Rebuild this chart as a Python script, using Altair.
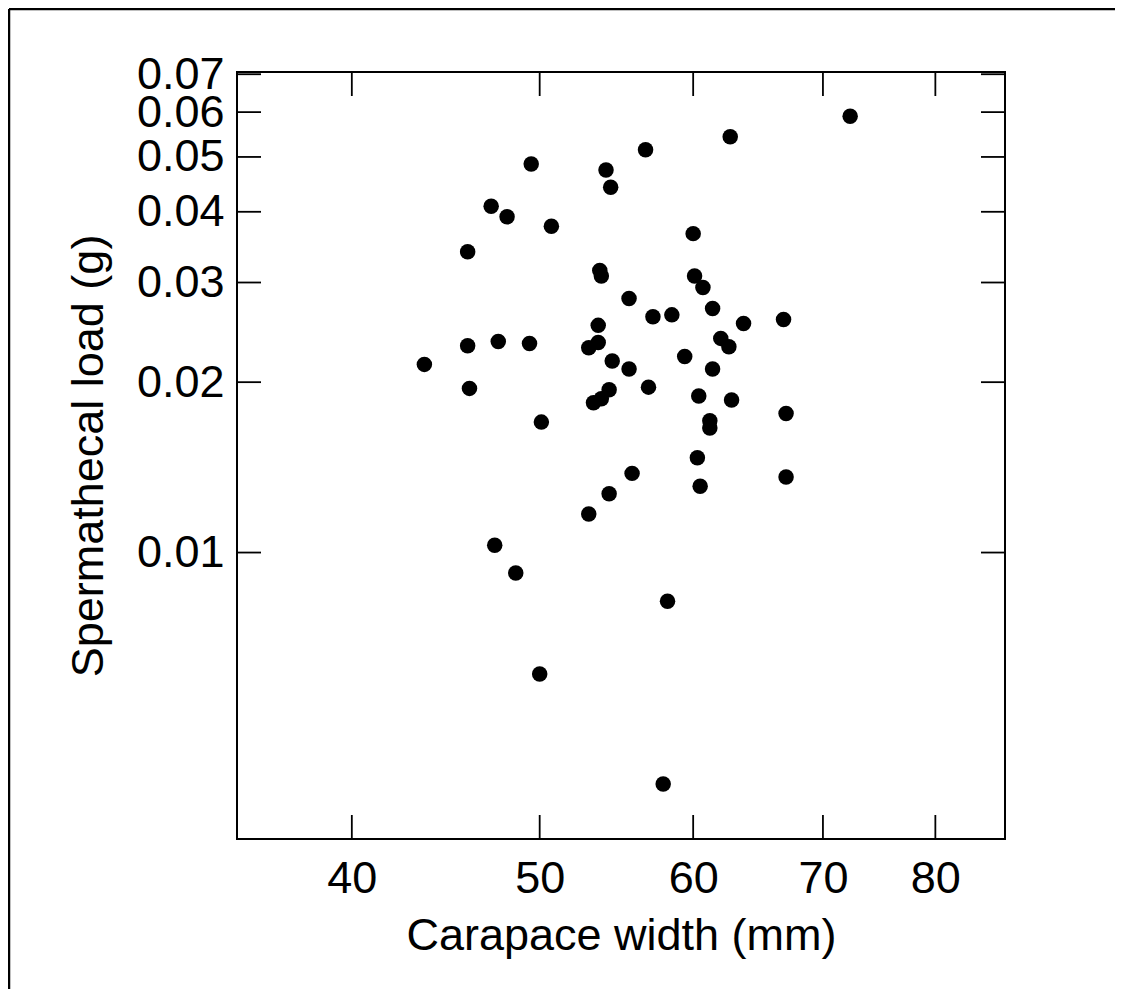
import altair as alt
import pandas as pd

# Carapace width (mm) and spermathecal load (g)
carapace_width = [
    62.7, 56.7, 49.5, 54.1, 54.4, 47.2, 48.1, 50.7, 60.0, 45.9,
    53.7, 53.8, 60.1, 60.7, 55.6, 61.4, 57.2, 58.5, 66.8, 63.7,
    53.6, 45.9, 47.6, 49.4, 43.6, 53.0, 53.6, 62.0, 62.6, 59.4,
    54.5, 55.6, 61.4, 46.0, 54.3, 53.8, 53.3, 56.9, 60.4, 62.8,
    67.0, 61.2, 61.2, 50.1, 60.3, 67.0, 55.8, 60.5, 54.3, 53.0,
    47.4, 48.6, 58.2, 50.0, 57.9, 72.3,
]
spermathecal_load = [
    0.0543, 0.0515, 0.0486, 0.0474, 0.0442, 0.0409, 0.0392, 0.0377, 0.0366, 0.0340,
    0.0315, 0.0308, 0.0308, 0.0294, 0.0281, 0.0270, 0.0261, 0.0263, 0.0258, 0.0254,
    0.0252, 0.0232, 0.0236, 0.0234, 0.0215, 0.0230, 0.0235, 0.0239, 0.0231, 0.0222,
    0.0218, 0.0211, 0.0211, 0.0195, 0.0194, 0.0187, 0.0184, 0.0196, 0.0189, 0.0186,
    0.0176, 0.0171, 0.0166, 0.0170, 0.0147, 0.0136, 0.0138, 0.0131, 0.0127, 0.0117,
    0.0103, 0.0092, 0.0082, 0.0061, 0.0039, 0.0590,
]

x_ticks = [40, 50, 60, 70, 80]
y_ticks = [0.01, 0.02, 0.03, 0.04, 0.05, 0.06, 0.07]

x_domain = [34.9, 86.9]
y_domain = [0.003118, 0.07064]

W, H = 768, 767
TICK = 24
FONT = "Liberation Sans"

pts = pd.DataFrame({"cw": carapace_width, "sl": spermathecal_load})
xt = pd.DataFrame({"v": x_ticks})
yt = pd.DataFrame({"v": y_ticks})
one = pd.DataFrame({"a": [0]})

xscale = alt.Scale(type="log", domain=x_domain, nice=False, zero=False)
yscale = alt.Scale(type="log", domain=y_domain, nice=False, zero=False)

points = alt.Chart(pts).mark_circle(size=240, color="black", opacity=1).encode(
    x=alt.X("cw:Q", scale=xscale, title="Carapace width (mm)",
            axis=alt.Axis(values=x_ticks, format="d", ticks=False, tickSize=0,
                          domain=False, grid=False, labelFontSize=45,
                          labelFont=FONT, labelColor="black", labelPadding=17,
                          labelOverlap=False,
                          titleFont=FONT, titleFontSize=45, titleFontWeight="normal",
                          titleColor="black", titlePadding=12)),
    y=alt.Y("sl:Q", scale=yscale, title="Spermathecal load (g)",
            axis=alt.Axis(values=y_ticks, format=".2f", ticks=False, tickSize=0,
                          domain=False, grid=False, labelFontSize=45,
                          labelFont=FONT, labelColor="black", labelPadding=13,
                          labelOverlap=False,
                          titleFont=FONT, titleFontSize=45, titleFontWeight="normal",
                          titleColor="black", titlePadding=25)),
)

tick_style = dict(color="black", strokeWidth=1.8)
x_bottom = alt.Chart(xt).mark_rule(**tick_style).encode(
    x=alt.X("v:Q", scale=xscale), y=alt.value(H), y2=alt.value(H - TICK))
x_top = alt.Chart(xt).mark_rule(**tick_style).encode(
    x=alt.X("v:Q", scale=xscale), y=alt.value(0), y2=alt.value(TICK))
y_left = alt.Chart(yt).mark_rule(**tick_style).encode(
    y=alt.Y("v:Q", scale=yscale), x=alt.value(0), x2=alt.value(TICK))
y_right = alt.Chart(yt).mark_rule(**tick_style).encode(
    y=alt.Y("v:Q", scale=yscale), x=alt.value(W - TICK), x2=alt.value(W))

frame_left = alt.Chart(one).mark_rule(color="black", strokeWidth=2.5).encode(
    x=alt.value(-228), y=alt.value(-63), y2=alt.value(H + 150))
frame_top = alt.Chart(one).mark_rule(color="black", strokeWidth=2.5).encode(
    y=alt.value(-63), x=alt.value(-228), x2=alt.value(W + 110))

chart = alt.layer(
    points, x_bottom, x_top, y_left, y_right, frame_left, frame_top
).properties(
    width=W, height=H,
    background="white",
    autosize=alt.AutoSizeParams(type="none"),
    padding={"left": 229, "top": 64, "right": 110, "bottom": 150},
).configure_view(
    stroke="black", strokeWidth=2, fill="white"
)

chart.save("out.html", embed_options={"renderer": "svg", "actions": False})
